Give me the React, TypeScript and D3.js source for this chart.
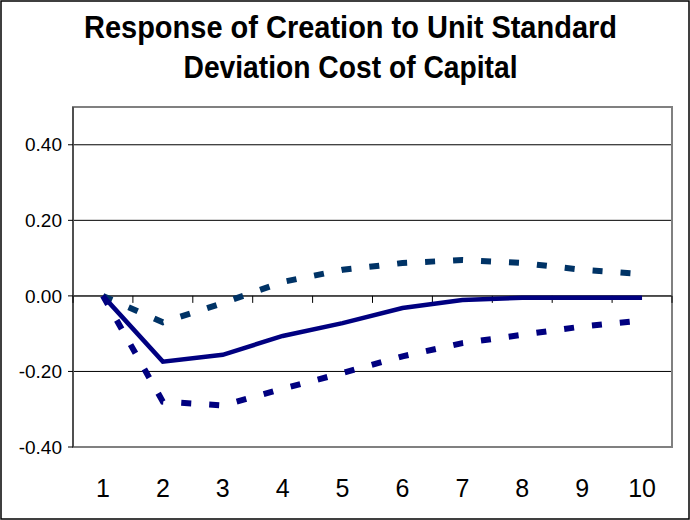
import React from "react";
import * as d3 from "d3";

const categories = ["1", "2", "3", "4", "5", "6", "7", "8", "9", "10"];
const response = [0.0, -0.174, -0.156, -0.106, -0.072, -0.032, -0.011, -0.005, -0.005, -0.005];
const upperBand = [0.0, -0.07, -0.019, 0.037, 0.069, 0.087, 0.095, 0.087, 0.069, 0.058];
const lowerBand = [0.0, -0.28, -0.29, -0.246, -0.204, -0.16, -0.125, -0.103, -0.081, -0.065];
const yTicks = [-0.4, -0.2, 0.0, 0.2, 0.4];
const titleLines = ["Response of Creation to Unit Standard", "Deviation Cost of Capital"];
const titleWidths = [533, 334];

const W = 690;
const H = 520;
const plot = { left: 73, right: 672, top: 107, bottom: 447 };

export default function App() {
  const x = d3.scaleBand<string>().domain(categories).range([plot.left, plot.right]).padding(0);
  const y = d3.scaleLinear().domain([-0.4, 0.5]).range([plot.bottom, plot.top]);
  const cx = (c: string) => (x(c) as number) + x.bandwidth() / 2;
  const line = d3
    .line<number>()
    .x((_, i) => cx(categories[i]))
    .y((d) => y(d));
  const font = "Arial, 'Liberation Sans', sans-serif";
  const boundaries = categories.map((c) => x(c) as number).concat([plot.right]);

  return (
    <svg
      width={W}
      height={H}
      style={{ position: "absolute", left: 0, top: 0, background: "#fff" }}
      fontFamily={font}
    >
      <rect x={1} y={1} width={W - 2} height={H - 2} fill="#fff" stroke="#000" strokeWidth={1.5} />
      {titleLines.map((t, i) => (
        <text
          key={i}
          x={350.5}
          y={38 + i * 40}
          textAnchor="middle"
          fontWeight="bold"
          fontSize={30.5}
          textLength={titleWidths[i]}
          lengthAdjust="spacingAndGlyphs"
        >
          {t}
        </text>
      ))}
      {/* gridlines */}
      {yTicks.map((t) => (
        <line key={t} x1={plot.left} x2={plot.right} y1={y(t)} y2={y(t)} stroke="#000" strokeWidth={1} />
      ))}
      {/* plot border */}
      <rect
        x={plot.left}
        y={plot.top}
        width={plot.right - plot.left}
        height={plot.bottom - plot.top}
        fill="none"
        stroke="#808080"
        strokeWidth={2}
      />
      {/* left axis */}
      <line x1={plot.left} x2={plot.left} y1={plot.top} y2={plot.bottom} stroke="#404040" strokeWidth={1.5} />
      {yTicks.map((t) => (
        <g key={"yt" + t}>
          <line x1={plot.left - 5} x2={plot.left} y1={y(t)} y2={y(t)} stroke="#000" strokeWidth={1} />
          <text x={62} y={y(t)} dy="0.35em" textAnchor="end" fontSize={19}>
            {t.toFixed(2)}
          </text>
        </g>
      ))}
      {/* x axis at zero */}
      <line x1={plot.left} x2={plot.right} y1={y(0)} y2={y(0)} stroke="#404040" strokeWidth={1.5} />
      {boundaries.map((b, i) => (
        <line key={"xt" + i} x1={b} x2={b} y1={y(0)} y2={y(0) + 7} stroke="#000" strokeWidth={1} />
      ))}
      {categories.map((c) => (
        <text key={"xl" + c} x={cx(c)} y={497} textAnchor="middle" fontSize={25}>
          {c}
        </text>
      ))}
      {/* series */}
      <path d={line(upperBand) || ""} fill="none" stroke="#003366" strokeWidth={6} strokeDasharray="10,18" />
      <path d={line(lowerBand) || ""} fill="none" stroke="#000080" strokeWidth={6} strokeDasharray="10,18" />
      <path d={line(response) || ""} fill="none" stroke="#000080" strokeWidth={4.5} />
    </svg>
  );
}
